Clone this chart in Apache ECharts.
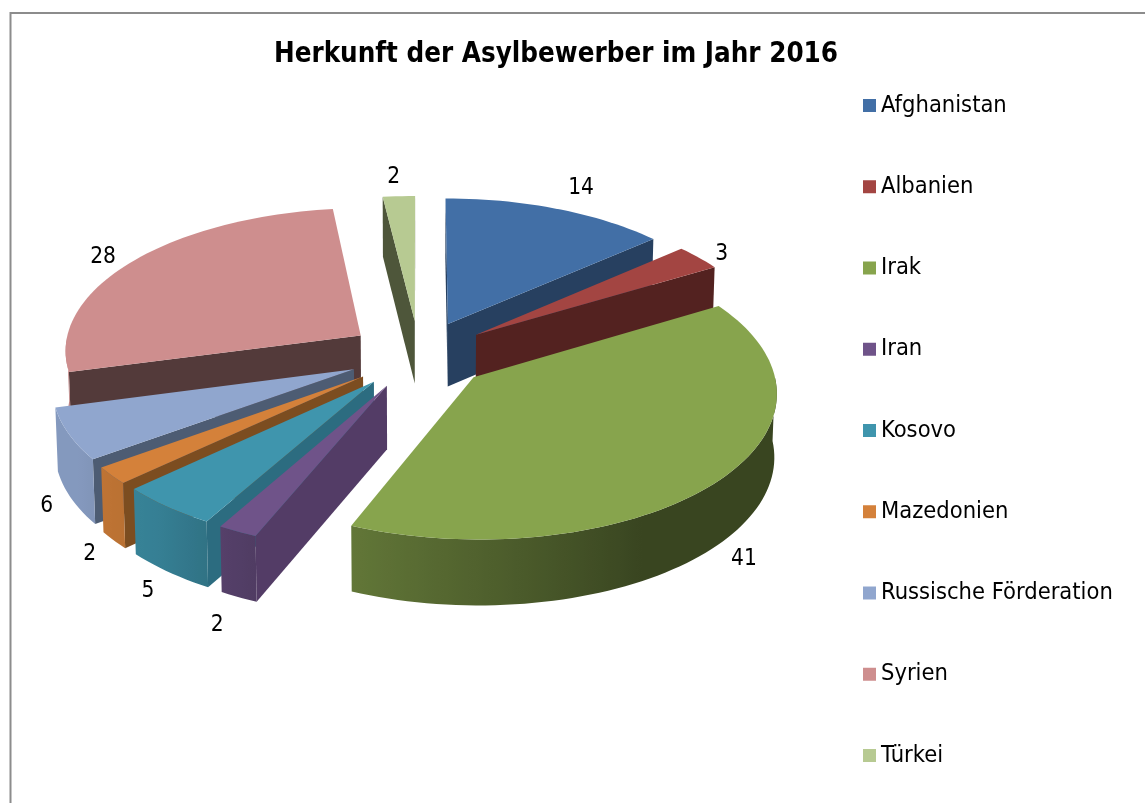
<!DOCTYPE html>
<html>
<head>
<meta charset="utf-8" />
<title>Herkunft der Asylbewerber</title>
<style type="text/css">
html, body { margin: 0; padding: 0; background: #fff; }
#main { width: 1145px; height: 803px; }
</style>
</head>
<body>
<div id="main"></div>
<script src="https://cdn.jsdelivr.net/npm/echarts@6/dist/echarts.min.js"></script>
<script type="text/javascript">
var chartTitle = 'Herkunft der Asylbewerber im Jahr 2016';
var categories = ['Afghanistan', 'Albanien', 'Irak', 'Iran', 'Kosovo', 'Mazedonien', 'Russische Förderation', 'Syrien', 'Türkei'];
var values = [14, 3, 41, 2, 5, 2, 6, 28, 2];

// colours of the top face and the flat cut face of each slice
var topColors = ['#426fa6', '#a34542', '#87a44d', '#6f5389', '#3f95ad', '#d4813a', '#90a6ce', '#ce8e8e', '#b7ca92'];
var faceColors = ['#274060', '#532220', '#37421f', '#533c66', '#2c6c80', '#7c4d20', '#4d5c73', '#533a3a', '#4e563a'];
// small corrections for the number labels
var labelNudge = [[15, -11], [4, 3], [3, 4], [-7, 13], [-1, 7], [0, 4], [2, 2], [-10, 2], [-4, -9]];

var FONT = '"DejaVu Sans Condensed", "DejaVu Sans", sans-serif';

// projection of the exploded pie
var CX = 419, CY = 354.5, SX = 297, SY = 142.6, PERSP = 0.093, DEPTH = 63, EXPLODE = 0.24;

var total = values.reduce(function (a, b) { return a + b; }, 0);

function toRad(share) { return share / total * Math.PI * 2; }

function project(x, y, z) {
    var w = 1 + PERSP * y;
    var px = CX + SX * x / w;
    var py = CY - SY * y / w;
    if (z) {
        px = CX + (px - CX) * 0.993;
        py += DEPTH * (1 - 0.04 * y);
    }
    return [px, py];
}

function shade(hex, f) {
    var n = parseInt(hex.slice(1), 16);
    var r = Math.round((n >> 16 & 255) * f), g = Math.round((n >> 8 & 255) * f), b = Math.round((n & 255) * f);
    return 'rgb(' + r + ',' + g + ',' + b + ')';
}

// light on the round outer wall, depends on the angle (degrees, clockwise from 12 o'clock)
function wallLight(deg) {
    var pts = [[0, 0.42], [150, 0.42], [207, 0.75], [220, 0.85], [240, 0.92], [360, 0.92]];
    for (var i = 1; i < pts.length; i++) {
        if (deg <= pts[i][0]) {
            var t = (deg - pts[i - 1][0]) / (pts[i][0] - pts[i - 1][0]);
            return pts[i - 1][1] + t * (pts[i][1] - pts[i - 1][1]);
        }
    }
    return 0.92;
}

function area(p) {
    var s = 0;
    for (var i = 0; i < p.length; i++) {
        var q = p[(i + 1) % p.length];
        s += p[i][0] * q[1] - q[0] * p[i][1];
    }
    return s / 2;
}

function poly(points, fill) {
    return { type: 'polygon', shape: { points: points }, style: { fill: fill, stroke: null } };
}

function renderSlice(params, api) {
    var i = params.seriesIndex;
    var before = 0;
    for (var k = 0; k < i; k++) before += values[k];
    var a0 = toRad(before), a1 = toRad(before + api.value(0));
    var mid = (a0 + a1) / 2;
    var ox = EXPLODE * Math.sin(mid), oy = EXPLODE * Math.cos(mid);

    var topPts = [project(ox, oy, 0)];
    var arcTop = [], arcBot = [], angles = [];
    var steps = Math.max(2, Math.ceil((a1 - a0) / 0.03));
    for (var s = 0; s <= steps; s++) {
        var a = a0 + (a1 - a0) * s / steps;
        var x = ox + Math.sin(a), y = oy + Math.cos(a);
        arcTop.push(project(x, y, 0));
        arcBot.push(project(x, y, 1));
        angles.push(a * 180 / Math.PI);
    }
    topPts = topPts.concat(arcTop);

    var apexT = project(ox, oy, 0), apexB = project(ox, oy, 1);
    var children = [];
    // the two cut faces, only those turned to the viewer
    var startFace = [apexT, arcTop[0], arcBot[0], apexB];
    var endFace = [arcTop[steps], apexT, apexB, arcBot[steps]];
    if (area(startFace) < 0) children.push(poly(startFace, faceColors[i]));
    if (area(endFace) < 0) children.push(poly(endFace, faceColors[i]));

    // round wall: only the part of the arc facing the front
    var wall = [], wt = [], wb = [], stops = [];
    var minX = Infinity, maxX = -Infinity;
    for (s = 0; s <= steps; s++) {
        if (angles[s] >= 90 && angles[s] <= 270) {
            wt.push(arcTop[s]);
            wb.unshift(arcBot[s]);
            minX = Math.min(minX, arcTop[s][0]);
            maxX = Math.max(maxX, arcTop[s][0]);
        }
    }
    if (wt.length > 1) {
        for (s = 0; s <= steps; s++) {
            if (angles[s] >= 90 && angles[s] <= 270) {
                stops.push({ offset: (arcTop[s][0] - minX) / (maxX - minX), color: shade(topColors[i], wallLight(angles[s])) });
            }
        }
        stops.sort(function (p, q) { return p.offset - q.offset; });
        wall = wt.concat(wb);
        children.push(poly(wall, new echarts.graphic.LinearGradient(minX, 0, maxX, 0, stops, true)));
    }
    children.push(poly(topPts, topColors[i]));

    // number label
    var R = 1.33;
    var ly = R * Math.cos(mid);
    var lp = project(R * Math.sin(mid), ly, ly < 0 ? 1 : 0);
    children.push({
        type: 'text',
        x: lp[0] + labelNudge[i][0],
        y: lp[1] + labelNudge[i][1],
        style: { text: String(api.value(0)), fill: '#000', font: '22.5px ' + FONT, align: 'center', verticalAlign: 'middle' }
    });
    return { type: 'group', children: children };
}

// draw far slices first
var order = categories.map(function (c, i) {
    var before = 0;
    for (var k = 0; k < i; k++) before += values[k];
    return { i: i, y: Math.cos(toRad(before + values[i] / 2)) };
}).sort(function (p, q) { return q.y - p.y; });
var rank = [];
order.forEach(function (o, r) { rank[o.i] = r; });

var series = categories.map(function (name, i) {
    return {
        name: name,
        type: 'custom',
        coordinateSystem: 'none',
        z: 2 + rank[i],
        silent: true,
        itemStyle: { color: topColors[i] },
        renderItem: renderSlice,
        data: [values[i]]
    };
});

var myChart = echarts.init(document.getElementById('main'), null, { renderer: 'canvas' });
var option = {
    animation: false,
    backgroundColor: '#fff',
    title: {
        text: chartTitle,
        left: 551,
        top: 36,
        textAlign: 'center',
        textStyle: { fontFamily: FONT, fontSize: 27.5, fontWeight: 'bold', color: '#000' }
    },
    legend: {
        orient: 'vertical',
        left: 858,
        top: 88.5,
        icon: 'rect',
        itemWidth: 13,
        itemHeight: 13,
        itemGap: 57.25,
        selectedMode: false,
        data: categories,
        textStyle: { fontFamily: FONT, fontSize: 23.5, color: '#000' }
    },
    graphic: [
        { type: 'polyline', silent: true, shape: { points: [[1145, 13], [10.5, 13], [10.5, 803]] }, style: { stroke: '#8c8c8c', lineWidth: 2, fill: null } }
    ],
    series: series
};
myChart.setOption(option);
</script>
</body>
</html>
